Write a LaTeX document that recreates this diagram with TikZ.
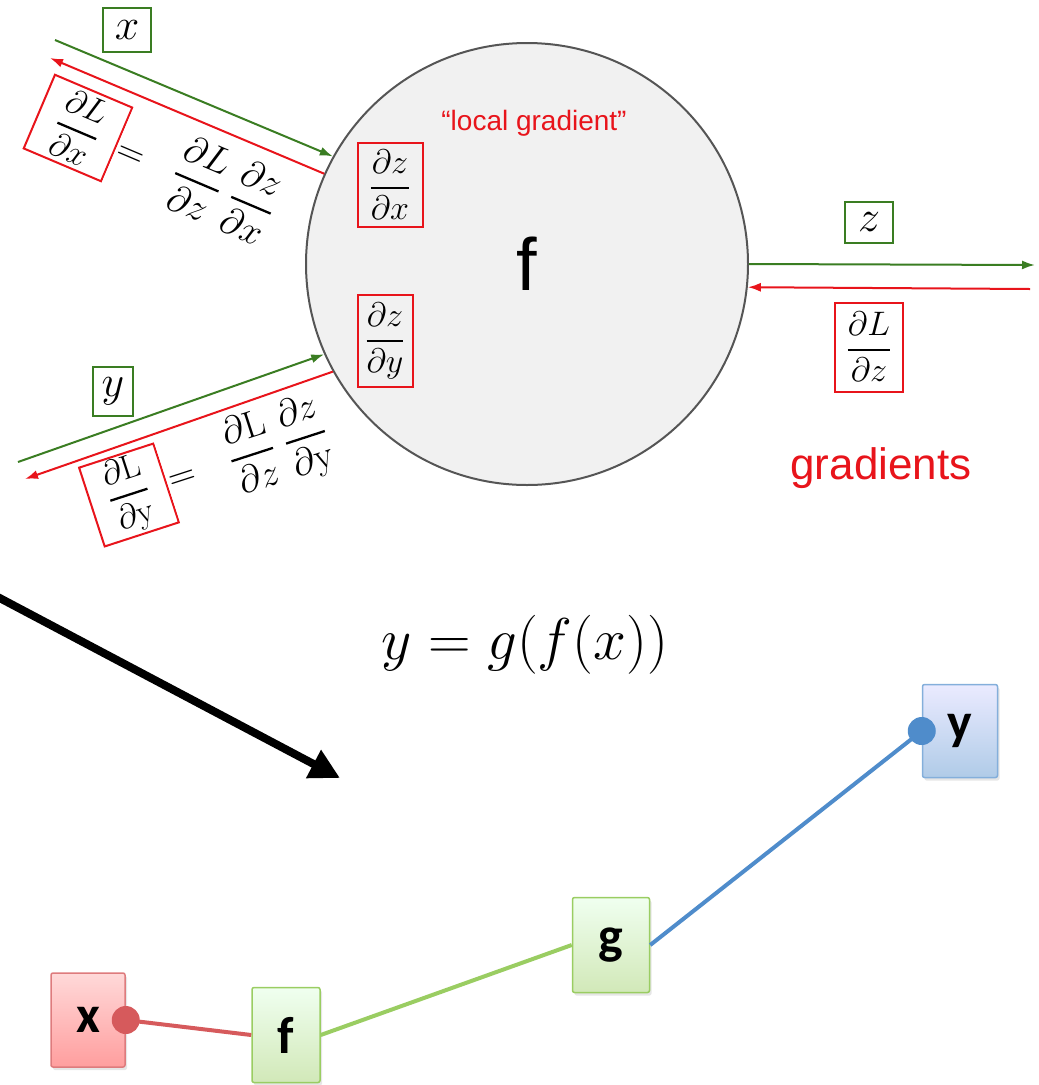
\RequirePackage{fix-cm}
\documentclass[tikz,border=0pt]{standalone}
\usepackage{amsmath}
\usepackage{fontspec}
\newfontfamily\arialfont{Liberation Sans}
\newfontfamily\calfont{Carlito}
\usetikzlibrary{arrows.meta,positioning,shadows}

\definecolor{fwdgreen}{HTML}{3A7D22}
\definecolor{bwdred}{HTML}{E8141B}
\definecolor{circfill}{HTML}{F1F1F1}
\definecolor{circline}{HTML}{555555}
\definecolor{xline}{HTML}{D65A5C}
\definecolor{fline}{HTML}{9ACD62}
\definecolor{yline}{HTML}{4F8CCB}

% display fraction with a heavier bar
\newcommand{\pfrac}[2]{\genfrac{}{}{2.3pt}{0}{#1}{#2}}

\begin{document}
\begin{tikzpicture}[
  x=1pt, y=-1pt,
  fwd/.style={draw=fwdgreen, line width=2pt, -{Latex[length=13pt,width=9pt]}},
  bwd/.style={draw=bwdred, line width=2pt, -{Latex[length=13pt,width=9pt]}},
  varbox/.style={draw=fwdgreen, line width=2pt, inner sep=0pt, font=\fontsize{44}{50}\selectfont},
  gradbox/.style={draw=bwdred, line width=2pt, inner sep=3pt, font=\fontsize{34}{40}\selectfont},
  chain/.style={inner sep=2pt, fill=white, font=\fontsize{38}{44}\selectfont},
  graphnode/.style={draw, line width=1.5pt, rounded corners=2pt, minimum width=74pt, minimum height=94pt,
    font=\calfont\bfseries\fontsize{52}{58}\selectfont,
    drop shadow={opacity=0.2, shadow xshift=2pt, shadow yshift=-3pt}},
  dot/.style={circle, inner sep=0pt, minimum size=28pt},
  link/.style={line width=4pt}
]
  \useasboundingbox (0,0) rectangle (1039,1085);

  % the gate
  \node[circle, draw=circline, line width=2pt, fill=circfill, minimum size=442pt, inner sep=0pt,
    font=\arialfont\fontsize{74}{80}\selectfont] (fcirc) at (527,264) {f};
  \node[text=bwdred, font=\arialfont\fontsize{28}{32}\selectfont] (localgrad) at (534,123) {“local gradient”};
  \node[gradbox, minimum width=65pt, minimum height=84pt] (dzdx) at (390,185) {$\pfrac{\partial z}{\partial x}$};
  \node[gradbox, minimum width=55pt, minimum height=92pt] (dzdy) at (385,341) {$\pfrac{\partial z}{\partial y}$};

  % input x
  \coordinate (xstart) at (55,40);
  \coordinate (xback) at (50,58);
  \draw[fwd] (xstart) -- (fcirc.151.5);
  \draw[bwd] (fcirc.156.5) -- (xback);
  \node[varbox, minimum width=48pt, minimum height=44pt] (xin) at (127,30) {$x$};
  \node[gradbox, rotate=-23, minimum width=84pt, minimum height=80pt, fill=white] (dLdx) at (78,128)
    {$\pfrac{\partial L}{\partial x}$};
  \node[chain, rotate=-23, anchor=west] (chainx) at (dLdx.east)
    {$=\hspace{0.6em}\pfrac{\partial L}{\partial z}\hspace{0.3em}\pfrac{\partial z}{\partial x}$};

  % input y
  \coordinate (ystart) at (18,462);
  \coordinate (yback) at (25,479);
  \draw[fwd] (ystart) -- (fcirc.204.6);
  \draw[bwd] (fcirc.209) -- (yback);
  \node[varbox, minimum width=40pt, minimum height=49pt] (yin) at (113,391) {$y$};
  \node[gradbox, rotate=18, minimum width=78pt, minimum height=80pt, fill=white] (dLdy) at (129,495)
    {$\pfrac{\partial\mathrm{L}}{\partial\mathrm{y}}$};
  \node[chain, rotate=18, anchor=west] (chainy) at (dLdy.east)
    {$=\hspace{0.7em}\pfrac{\partial\mathrm{L}}{\partial z}\hspace{0.3em}\pfrac{\partial z}{\partial\mathrm{y}}$};

  % output z
  \coordinate (zend) at (1035,265);
  \coordinate (zback) at (1030,289);
  \draw[fwd] (fcirc.0) -- (zend);
  \draw[bwd] (zback) -- (fcirc.-6.5);
  \node[varbox, minimum width=48pt, minimum height=41pt] (zout) at (869,222) {$z$};
  \node[gradbox, minimum width=68pt, minimum height=89pt] (dLdz) at (869,347) {$\pfrac{\partial L}{\partial z}$};
  \node[text=bwdred, font=\arialfont\fontsize{44}{50}\selectfont] (gradlabel) at (881,468) {gradients};

  % big arrow
  \coordinate (bigstart) at (-6,595);
  \coordinate (bigend) at (340,778);
  \draw[line width=8pt, -{Triangle[length=30pt,width=30pt]}] (bigstart) -- (bigend);

  % composed function
  \node[font=\fontsize{59}{65}\selectfont] (compose) at (525,645) {$y = g(f(x))$};

  \node[graphnode, draw=xline!80!white, top color=red!15, bottom color=red!38] (xvar) at (88,1020) {x};
  \node[graphnode, draw=fline, top color=green!6, bottom color=fline!45, minimum width=68pt, minimum height=95pt] (fop) at (286,1035) {f};
  \node[graphnode, draw=fline, top color=green!6, bottom color=fline!45, minimum width=77pt, minimum height=95pt] (gop) at (611,945) {g};
  \node[graphnode, draw=yline!70!white, top color=blue!8, bottom color=yline!45, minimum width=75pt, minimum height=93pt] (yvar) at (960,731) {y};

  \node[dot, fill=xline] (xdot) at (xvar.east) {};
  \draw[link, xline] (xdot.center) -- (fop.west);
  \draw[link, fline] (fop.east) -- (gop.west);
  \draw[link, yline] (gop.east) -- (yvar.west);
  \node[dot, fill=yline] (ydot) at (yvar.west) {};
\end{tikzpicture}
\end{document}
